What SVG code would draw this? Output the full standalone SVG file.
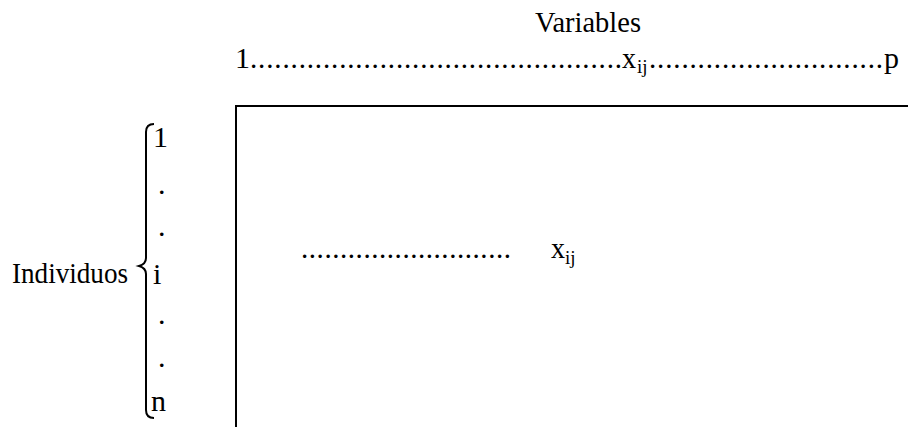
<svg xmlns="http://www.w3.org/2000/svg" width="910" height="427" viewBox="0 0 910 427">
<style>
.t{font-family:"Liberation Serif","Times New Roman",serif;font-size:30px;fill:#000}
.d{font-family:"Liberation Serif","Times New Roman",serif;font-size:29px;fill:#000}
.s{font-family:"Liberation Serif","Times New Roman",serif;font-size:19px;fill:#000}
.ln{stroke:#000;stroke-width:2;fill:none}
</style>
<rect width="910" height="427" fill="#fff"/>
<g id="variables-header">
<text class="t" x="535" y="32" textLength="106" lengthAdjust="spacingAndGlyphs">Variables</text>
<text class="t" x="235" y="68">1</text>
<text class="d" x="250" y="68" textLength="372" lengthAdjust="spacing">..............................................</text>
<text class="t" x="622" y="68" textLength="14" lengthAdjust="spacingAndGlyphs">x</text>
<text class="s" x="637" y="73">ij</text>
<text class="d" x="649" y="68" textLength="234" lengthAdjust="spacing">.............................</text>
<text class="t" x="884" y="68">p</text>
</g>
<g id="individuos">
<text class="t" x="12" y="283" textLength="116" lengthAdjust="spacingAndGlyphs">Individuos</text>
<path class="ln" d="M154,124 Q146,124 146,132 L146,258 Q146,264 139,266 Q146,268 146,274 L146,410 Q146,418 154,418" stroke-width="1.8"/>
<text class="t" x="153" y="147">1</text>
<text class="t" x="158" y="194">.</text>
<text class="t" x="158" y="236">.</text>
<text class="t" x="153" y="284">i</text>
<text class="t" x="158" y="324">.</text>
<text class="t" x="158" y="367">.</text>
<text class="t" x="151" y="411">n</text>
</g>
<g id="matrix">
<path class="ln" d="M236,427 L236,106 L908,106"/>
<text class="d" x="301" y="258" textLength="210" lengthAdjust="spacing">...........................</text>
<text class="t" x="551" y="258" textLength="14" lengthAdjust="spacingAndGlyphs">x</text>
<text class="s" x="565" y="264">ij</text>
</g>
</svg>
